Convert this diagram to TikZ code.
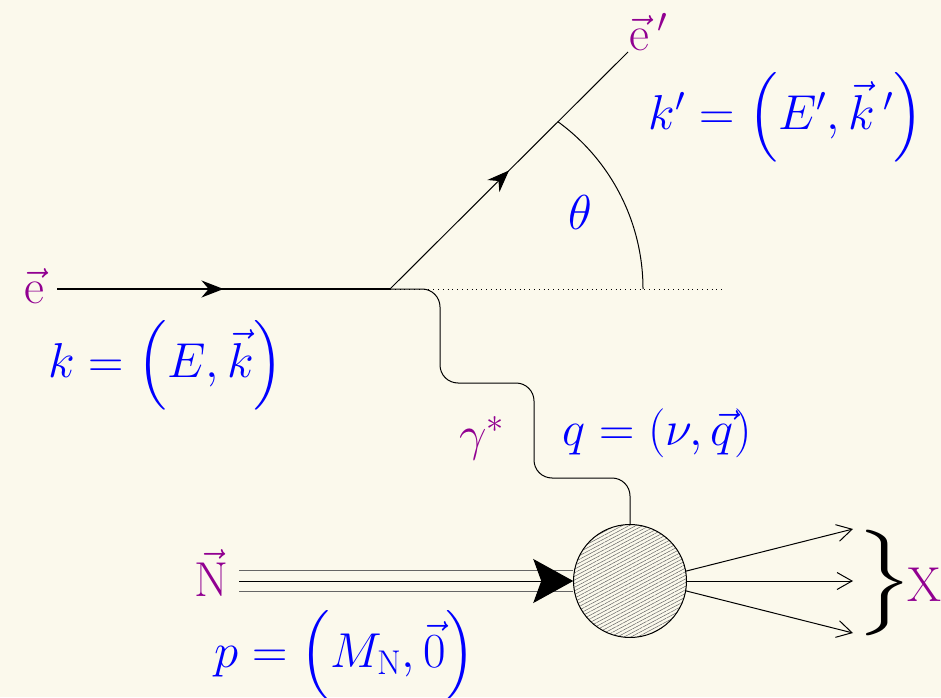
\documentclass[tikz,border=0pt]{standalone}
\usepackage{fix-cm}
\usepackage{amsmath}
\usepackage{graphicx}
\usepackage{tikz}
\usetikzlibrary{positioning, calc, arrows.meta, decorations.markings, patterns.meta}
\definecolor{paper}{RGB}{251,249,236}
\definecolor{particle}{RGB}{145,0,145}
\definecolor{kinematic}{RGB}{0,0,255}

\begin{document}
\begin{tikzpicture}[x=0.5pt, y=0.5pt, >=Stealth, font=\fontsize{24.5}{29}\selectfont,
    particle label/.style={text=particle, inner sep=0pt},
    kin label/.style={text=kinematic, inner sep=0pt},
    mid arrow/.style={postaction={decorate}, decoration={markings, mark=at position 0.5 with {\arrow{Stealth[length=11pt, width=8.5pt]}}}}]
    % Background
    \fill[paper] (0,0) rectangle (941,697);
    \useasboundingbox (0,0) rectangle (941,697);

    % Electron lines
    \coordinate (V) at (390,408);
    \coordinate (ein) at (57,408);
    \coordinate (eout) at (628,645);
    \node[particle label] (elab) at (34,411) {$\vec{\mathrm{e}}$};
    \node[particle label] (eplab) at (649,665) {$\vec{\mathrm{e}}\,'$};
    \draw[line width=0.65pt, mid arrow] (ein) -- (V);
    \draw[line width=0.5pt, mid arrow] (V) -- (eout);
    \draw[dotted, line width=0.4pt] (V) -- ++(332,0) coordinate (hor);

    % Scattering angle
    \draw[line width=0.5pt] ($(V)+(253,0)$) coordinate (arcstart) arc[start angle=0, end angle=54, radius=103.5pt];
    \node[kin label] (theta) at (580,485) {$\theta$};
    \node[kin label] (klab) at (166,332) {$k=\left(E,\vec{k}\right)$};
    \node[kin label] (kplab) at (786,580) {$k'=\left(E',\vec{k}\,'\right)$};

    % Hadronic blob
    \node[circle, draw, line width=0.5pt, minimum size=56.5pt, inner sep=0pt,
      pattern={Lines[angle=28, distance=1.6pt, line width=0.25pt]}, pattern color=black!60] (blob) at (630,116) {};

    % Virtual photon
    \draw[line width=0.5pt, rounded corners=9pt] (V) -- ++(50,0) -- ++(0,-94) -- ++(94,0) -- ++(0,-95) -- ++(96,0) -- (blob.north);
    \node[particle label] (gam) at (482,259) {$\gamma^*$};
    \node[kin label] (qlab) at (657,264) {$q=(\nu,\vec{q})$};

    % Nucleon
    \coordinate (Nin) at (239,116);
    \node[particle label] (Nlab) at (211,124) {$\vec{\mathrm{N}}$};
    \draw[line width=0.5pt, draw=black!60, double=paper, double distance=10pt] (Nin) -- (blob.west);
    \draw[line width=0.5pt, -{Stealth[length=20pt, width=22pt, inset=4pt]}] (Nin) -- (blob.west);
    \node[kin label] (plab) at (345,42) {$p=\left(M_{\mathrm{N}},\vec{0}\right)$};

    % Final state X
    \coordinate (X1) at (853,168);
    \coordinate (X2) at (853,116);
    \coordinate (X3) at (853,64);
    \foreach \ang/\tip in {10/X1, 0/X2, -10/X3}
      \draw[line width=0.5pt, -{Straight Barb[length=7.5pt, width=8.5pt]}] (blob.\ang) -- (\tip);
    \node[anchor=base west, inner sep=0pt] (Xlab) at (856,96)
      {\nulldelimiterspace=0pt\raisebox{2pt}{\scalebox{1.7}[1.18]{$\left.\vrule height 19pt depth 17pt width 0pt\right\}$}}\hspace{-2.5pt}\textcolor{particle}{X}};
\end{tikzpicture}
\end{document}
